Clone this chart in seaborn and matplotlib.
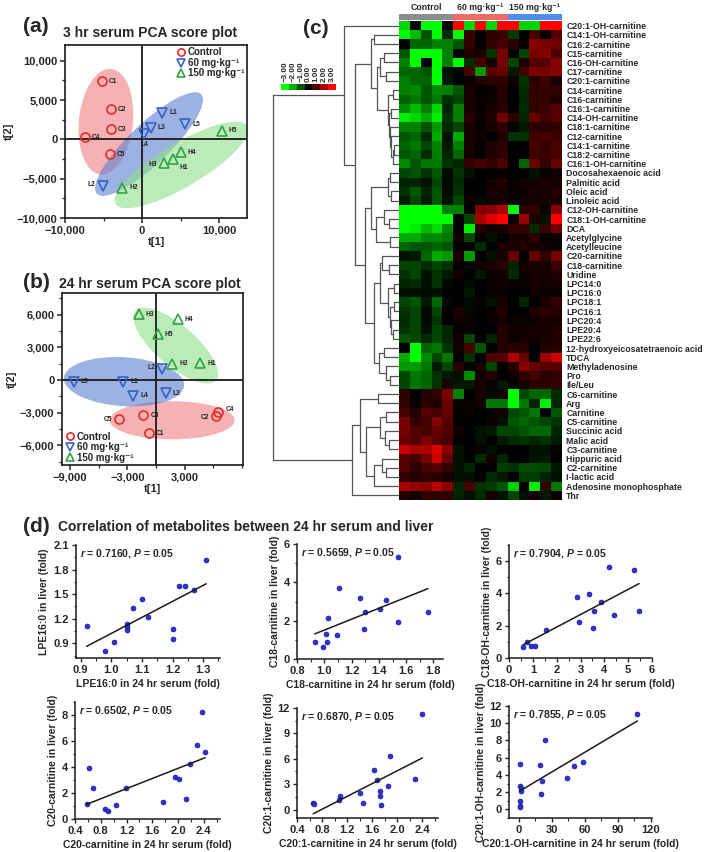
import matplotlib
matplotlib.use("Agg")
import matplotlib.pyplot as plt
from matplotlib.patches import Ellipse
from matplotlib.colors import LinearSegmentedColormap, ListedColormap
from matplotlib.ticker import AutoMinorLocator, FuncFormatter, FormatStrFormatter
import numpy as np
import pandas as pd
import seaborn as sns

# ---------------- (a) 3 hr serum PCA scores
a_ctrl_x = [-5200, -4050, -4050, -7400, -4180]
a_ctrl_y = [7400, 3860, 1270, 300, -1870]
a_low_x = [2600, -5130, 1090, 300, 5600]
a_low_y = [3400, -5900, 1480, 640, 1950]
a_high_x = [4000, -2600, 2830, 5000, 10300]
a_high_y = [-2500, -6150, -2970, -1650, 1100]
# ellipses: centre x, centre y, width, height, angle
a_ellipses = [(-4700, 2250, 7000, 13500, -6), (900, -600, 18500, 5200, 43), (5100, -3250, 19800, 5600, 30)]

# ---------------- (b) 24 hr serum PCA scores
b_ctrl_x = [-730, 6280, -1330, 6530, -3870]
b_ctrl_y = [-4890, -3300, -3230, -2930, -3600]
b_low_x = [-3420, 660, 1010, -2370, -8585]
b_low_y = [-150, 985, -1230, -1450, -150]
b_high_x = [4640, 1710, -1815, 2270, 175]
b_high_y = [1540, 1510, 6070, 5600, 4220]
b_ellipses = [(1680, -3690, 13100, 3500, 0), (-3350, -150, 12600, 4500, -3), (2060, 3170, 10600, 3900, -36)]

ctrl_labels = ["C1", "C2", "C3", "C4", "C5"]
low_labels = ["L1", "L2", "L3", "L4", "L5"]
high_labels = ["H1", "H2", "H3", "H4", "H5"]
group_names = ["Control", "60 mg\u00b7kg\u207b\u00b9", "150 mg\u00b7kg\u207b\u00b9"]

# ---------------- (c) heatmap
hm_rows = ["C20:1-OH-carnitine", "C14:1-OH-carnitine", "C16:2-carnitine", "C15-carnitine",
           "C16-OH-carnitine", "C17-carnitine", "C20:1-carnitine", "C14-carnitine",
           "C16-carnitine", "C16:1-carnitine", "C14-OH-carnitine", "C18:1-carnitine",
           "C12-carnitine", "C14:1-carnitine", "C18:2-carnitine", "C16:1-OH-carnitine",
           "Docosahexaenoic acid", "Palmitic acid", "Oleic acid", "Linoleic acid",
           "C12-OH-carnitine", "C18:1-OH-carnitine", "DCA", "Acetylglycine", "Acetylleucine",
           "C20-carnitine", "C18-carnitine", "Uridine", "LPC14:0", "LPC16:0", "LPC18:1",
           "LPC16:1", "LPC20:4", "LPE20:4", "LPE22:6", "12-hydroxyeicosatetraenoic acid",
           "TDCA", "Methyladenosine", "Pro", "Ile/Leu", "C6-carnitine", "Arg", "Carnitine",
           "C5-carnitine", "Succinic acid", "Malic acid", "C3-carnitine", "Hippuric acid",
           "C2-carnitine", "I-lactic acid", "Adenosine monophosphate", "Thr"]
hm_groups = [0] * 5 + [1] * 5 + [2] * 5
hm_values = [
    [-2.5, 0, -3, -3, 0, 3, -2.5, 3, -2.5, 3, 3, -2.5, -2.5, 3, 3],
    [-3, -2.2, -1, -3, -0.5, -3, 0.7, 0, 0.5, 0.7, -0.7, 0, 0.8, 0, 1.0],
    [0, -1.2, -1.2, -1.5, -1.5, -1.0, 0.6, 0, 0.6, 0.8, 0.5, 0.1, 1.6, 1.4, 1.3],
    [-1, -3, -3, -3, -1.5, 0, 0.4, 0.3, -0.6, 1.4, 0, -0.8, 1.4, 1.6, 0.9],
    [-1.5, -3, 0, -3, -1.5, -3, -0.5, 0.8, 0.3, 1.4, -0.8, 0.3, 1.0, 1.0, 1.6],
    [-1.2, -1.2, -1.0, -3, -0.2, 0, 0.8, -1.8, 1.0, 1.2, -0.3, 0.8, 1.4, 1.4, 1.6],
    [-1.5, -1.2, -1.2, -3, -0.3, 0, 0.1, 0.4, 0.5, 0.6, 0.2, -0.6, 0.5, 0.7, 0.3],
    [-1.5, -1.6, -1.0, -1.6, -1.5, -1.0, 0.3, 0, 0.1, 0.4, 0, -0.5, 0.6, 0.6, 0.6],
    [-1.2, -1.4, -1.0, -1.4, -0.6, -0.8, 0.3, 0.1, 0.2, 0.4, 0, -0.4, 0.6, 0.6, 0.4],
    [-1.6, -2.2, -1.5, -2.5, -0.4, -1.5, 0.3, 0.1, 0.3, 0.5, 0, -0.5, 0.6, 0.7, 1.0],
    [-2.8, -2.5, -2, -2.8, -0.6, -1.5, 0.5, 0.1, 0.4, 1.3, 0.5, -0.4, 1.2, 0.8, 1.0],
    [-1.5, -1.5, -1.0, -1.8, -0.5, -0.8, 0.3, 0.1, 0.3, 0.5, 0.1, -0.3, 0.5, 0.5, 0.6],
    [-1.0, -1.2, -0.5, -2.0, -0.2, -2.0, 0.3, 0.2, 0, 0.4, -0.6, -0.6, 0.7, 0.8, 0.7],
    [-1.2, -1.4, -0.8, -1.5, -0.3, -1.5, 0.3, 0.1, 0.4, 0.5, 0, 0, 0.8, 0.6, 0.9],
    [-1.0, -1.2, -0.5, -1.5, -0.4, -1.2, 0.3, 0, 0.4, 0.6, 0, 0, 0.7, 0.7, 0.8],
    [-1.6, -1.0, -1.4, -1.4, -0.6, -0.4, 0.6, 0.8, 0.6, 0.9, 0, -1.2, 1.2, 0.6, 1.2],
    [-0.8, -1.0, -0.6, -1.0, -0.1, -0.6, -0.2, 0, 0, 0.1, 0, 0, -0.2, 0.1, 0.2],
    [-0.4, -0.4, -0.2, -0.8, -0.1, -0.5, 0, 0, 0.2, 0.4, 0.1, 0.3, 0.2, 0.3, 0.3],
    [-0.6, -1.0, -0.4, -1.0, -0.1, -0.6, 0, 0, 0.3, 0.3, 0.1, 0.1, 0.3, 0.2, 0.4],
    [-0.3, -0.8, -0.3, -1.0, -0.2, -0.8, 0.2, -0.1, 0.2, 0.3, 0.1, 0.2, 0.3, 0.3, 0.3],
    [-3, -3, -3, -3, -1.5, -1.5, 0, 1.5, 1.6, 2.0, -3, 0.5, 0.6, 0.1, 1.6],
    [-3, -3, -3, -3, -3, 0, -0.8, 2.0, 2.6, 3.0, 0, 1.8, 0.3, -0.2, 3.0],
    [-3, -2.8, -2.2, -2.6, -1.6, 0, -2.8, 0.4, 0.2, 0.3, 0.6, 0.6, -0.5, 0.7, 1.3],
    [-2.0, -2.0, -1.6, -1.6, -1.4, 0.2, -0.8, 0, -0.2, 0, 0.3, 0.3, 0.5, 0.1, 0.2],
    [-1.2, -1.0, -1.0, -1.2, -1.0, 0, 0, -0.5, 0, 0.3, 0.3, 0.4, 0.3, 0.2, 0.1],
    [-0.2, -0.3, -1.2, -2.0, -1.8, 0.3, -1.8, 0, -0.2, 0.3, 1.2, 0, 1.2, 0.6, 1.4],
    [-0.8, -0.8, -0.5, -0.8, -0.6, 0, -0.1, 0.2, 0.3, 0.5, -0.4, 0.2, 0.3, 0.3, 0.7],
    [-0.6, -0.8, -0.2, -0.6, -0.3, 0.2, 0, -0.3, 0.1, 0.2, -0.5, 0.1, 0.3, 0.3, 0.4],
    [-0.4, -0.5, -0.2, -0.6, -0.1, 0, -0.1, 0, 0.1, 0.2, 0.1, 0.1, 0.3, 0.2, 0.3],
    [-0.2, -0.2, -0.1, -0.2, 0, 0, -0.3, 0, 0.1, 0.1, 0, 0, 0.2, 0.1, 0.1],
    [-0.8, -1.0, -0.3, -1.2, -0.1, 0, -0.1, 0.1, -0.2, 0.3, 0, -0.4, 0, 0.3, 0.6],
    [-0.6, -0.8, -0.1, -0.8, 0, 0.3, -0.1, 0, 0.1, 0.4, 0, 0, 0.4, 0.5, 0.4],
    [-0.5, -0.8, -0.1, -0.6, 0, 0.2, 0.1, 0, 0.1, 0.3, 0.1, 0.1, 0.2, 0.3, 0.3],
    [-0.6, -0.8, -0.2, -0.8, -0.4, 0, 0.1, 0, 0, 0.4, 0.2, 0.2, 0.3, 0.3, 0.4],
    [-1.0, -0.8, -0.5, -0.8, -0.4, 0.2, -0.8, 0, -0.4, 0.4, 0.1, 0.3, 0.2, 0.3, 0.4],
    [0, -3, -1.2, -1.4, -0.6, 0.2, 0.8, -1.0, 0, 0.4, 0.5, 0.5, 0, 0.4, 0.5],
    [-2.0, -3, -1.6, -0.8, -1.4, 0, -0.6, 0, 0.9, 1.0, 2.0, 1.2, 0, 1.8, 2.4],
    [-1.8, -1.8, -1.4, -0.3, -0.8, 0.5, 0, 0.3, -0.8, 0, 0.4, 1.6, 1.2, 1.0, 1.0],
    [-0.8, -1.4, -1.2, -0.6, -0.3, -0.2, -1.6, 0.2, 0.4, 0, 0.2, 0.6, 0.8, 0.5, 0.6],
    [-0.8, -1.4, -1.2, -0.6, 0.3, -0.3, -0.3, 0.3, 0.1, -0.3, 0.1, 0.3, 0.5, 0.5, 0.6],
    [0.5, 0, 0.4, 0.6, 1.4, -1.5, 0, 0.3, -0.1, 0.2, -3, -0.8, -1.2, -1.2, -0.5],
    [0.6, 0.1, 0.5, 0.4, 1.2, 0.1, 0.1, 0.2, -1.4, -1.4, -3, -1.4, -0.4, -2.8, -0.4],
    [0.8, 0.4, 1.0, 0.8, 1.2, 0, 0.1, 0, 0.1, 0.2, -0.8, -1.0, -1.4, 0, -1.0],
    [1.4, 0.6, 0.8, 1.6, 1.0, 0, 0, 0, 0.1, -0.2, -1.0, -1.2, -1.0, -0.8, -0.6],
    [1.4, 1.0, 0.8, 1.2, 1.0, 0.2, 0, -0.2, -0.3, -0.8, -0.8, -1.0, -1.2, -1.2, -0.4],
    [1.2, 1.0, 1.4, 1.0, 0.8, 0, 0, -0.2, 0, -0.3, -0.5, -0.6, -0.4, -0.6, -0.3],
    [2.4, 2.0, 2.0, 2.6, 1.6, -0.2, 0, 0.1, -0.2, 0, 0, 0, -0.2, -0.2, 0.1],
    [1.0, 0.8, 1.4, 2.4, 1.2, -0.2, 0, -0.5, 0.2, -0.4, 0, 0, -0.2, -0.3, 0],
    [1.0, 0.5, 0.8, 1.0, 0.6, -0.2, -0.4, 0, 0, -0.7, -0.6, -0.9, -0.9, -0.8, -0.3],
    [0.6, 0.4, 0.6, 0.5, 0.3, -0.2, -0.2, 0.1, -0.5, -0.3, 0, -0.7, -0.7, -0.4, -0.2],
    [2.0, 1.8, 1.6, 2.2, 1.6, -0.4, 0.8, -0.6, -0.7, -1.0, -2.4, 0, -2.8, 0.6, -1.4],
    [0.4, 0.2, 0.6, 0.5, 0.6, -0.4, -0.2, -0.5, 0.3, -0.2, -0.8, -0.2, 0.3, -0.3, 0.1],
]
scale_vals = [-3, -2, -1, 0, 1, 2, 3]

# row dendrogram: (left, right, merge height); leaves are row indices
carn = ((1, 2, 0.2),
        (((3, 4, 0.12), (5, 6, 0.10), 0.15),
         ((7, 8, 0.05), ((9, 10, 0.06), (11, (12, ((13, 14, 0.04), 15, 0.05), 0.06), 0.07), 0.08), 0.09),
         0.17), 0.22)
fa = (((16, 17, 0.07), (18, 19, 0.06), 0.09))
oh = ((20, (21, 22, 0.08), 0.12), (23, 24, 0.07), 0.18)
lp = ((25, (26, 27, 0.08), 0.13), ((28, 29, 0.04), ((30, 31, 0.04), (32, (33, 34, 0.05), 0.06), 0.07), 0.09), 0.15)
tg = ((35, 36, 0.12), (37, (38, 39, 0.07), 0.10), 0.16)
upper = (0, (carn, ((fa, oh, 0.22), (lp, tg, 0.20), 0.27), 0.35), 0.43)
lower = (((40, 41, 0.165), (((42, 43, 0.10), (44, (45, 46, 0.08), 0.11), 0.15),
                            ((47, (48, 49, 0.10), 0.13), 50, 0.20), 0.26), 0.31), 51, 0.37)
dendro = (upper, lower, 0.99)

# ---------------- (d) correlations
d1_x = [1.31, 1.22, 1.24, 1.27, 1.10, 1.07, 1.12, 0.92, 1.05, 1.05, 1.05, 1.01, 0.98, 1.20, 1.20]
d1_y = [1.92, 1.60, 1.60, 1.55, 1.44, 1.33, 1.22, 1.11, 1.13, 1.10, 1.06, 0.91, 0.81, 1.07, 0.95]
d2_x = [1.54, 1.11, 1.26, 1.45, 1.30, 1.41, 1.76, 1.03, 0.93, 0.99, 1.01, 1.02, 1.09, 1.29, 1.54]
d2_y = [5.30, 3.69, 3.17, 3.06, 2.44, 2.60, 2.44, 2.13, 0.88, 0.62, 1.30, 0.88, 1.25, 1.56, 1.92]
d3_x = [4.20, 5.25, 2.86, 3.36, 3.87, 3.57, 4.41, 5.46, 2.94, 3.53, 1.55, 0.76, 0.92, 1.09, 0.59]
d3_y = [5.63, 5.44, 3.75, 3.94, 3.50, 2.94, 2.69, 2.94, 2.25, 1.88, 1.75, 1.00, 0.75, 0.75, 0.69]
d4_x = [2.37, 2.30, 2.42, 2.19, 0.62, 1.95, 2.02, 0.68, 1.19, 0.58, 1.76, 2.12, 0.86, 0.91, 1.04]
d4_y = [8.23, 5.73, 5.16, 4.26, 3.92, 3.23, 3.05, 2.40, 2.35, 1.19, 1.32, 1.52, 0.80, 0.62, 1.06]
d5_x = [2.40, 1.88, 1.63, 1.68, 2.28, 1.85, 1.72, 1.73, 1.41, 1.74, 1.46, 1.08, 1.07, 0.66, 0.67]
d5_y = [11.26, 6.29, 4.69, 3.44, 3.56, 2.78, 2.19, 1.56, 1.92, 0.59, 0.74, 1.60, 1.09, 0.78, 0.70]
d6_x = [107.7, 23.3, 58.2, 50.5, 19.6, 1.2, 43.5, 21.4, 19.9, 1.2, 1.5, 1.5, 0.6, 0.6, 1.2]
d6_y = [11.1, 8.05, 5.52, 5.06, 5.17, 5.29, 3.60, 3.33, 1.80, 2.68, 2.45, 2.18, 0.92, 0.38, 0.27]
d_r = ["0.7160", "0.5659", "0.7904", "0.6502", "0.6870", "0.7855"]
d_names = ["LPE16:0", "C18-carnitine", "C18-OH-carnitine", "C20-carnitine",
           "C20:1-carnitine", "C20:1-OH-carnitine"]

sns.set_theme(style="ticks")
plt.rcParams["font.family"] = ["Liberation Sans", "DejaVu Sans"]
plt.rcParams["font.weight"] = "bold"
plt.rcParams["axes.labelweight"] = "bold"
plt.rcParams["mathtext.fontset"] = "custom"
plt.rcParams["mathtext.rm"] = "Liberation Sans:bold"
plt.rcParams["mathtext.it"] = "Liberation Sans:italic:bold"
plt.rcParams["mathtext.bf"] = "Liberation Sans:bold"

W, H = 709, 852
fig = plt.figure(figsize=(W / 100, H / 100), dpi=100)


def add_ax(l, t, r, b):
    return fig.add_axes([l / W, 1 - b / H, (r - l) / W, (b - t) / H])


comma = FuncFormatter(lambda v, p: f"{v:,.0f}".replace("-", "\u2212"))
grp_colors = ["#e52a2a", "#3560c8", "#2ea44a"]
ell_colors = ["#f08080", "#5b7fd0", "#8fe08a"]
markers = ["o", "v", "^"]


def pca_panel(ax, groups, ellipses, xlim, ylim, xticks, yticks, offsets, legend_loc, anchor):
    for (cx, cy, w, h, ang), col in zip(ellipses, ell_colors):
        ax.add_patch(Ellipse((cx, cy), w, h, angle=ang, fc=col, ec="none", alpha=0.6, zorder=1))
    ax.axhline(0, color="k", lw=1.3, zorder=2)
    ax.axvline(0, color="k", lw=1.3, zorder=2)
    for (xs, ys, labs), name, col, mk in zip(groups, group_names, grp_colors, markers):
        ax.plot(xs, ys, ls="none", marker=mk, ms=6.5, mfc="none", mec=col, mew=1.2,
                label=name, zorder=3)
        for x, y, t in zip(xs, ys, labs):
            dx, dy = offsets.get(t, (5, 0))
            ax.annotate(t, (x, y), xytext=(dx, dy), textcoords="offset points", fontsize=4.8,
                        va="center", ha="left" if dx > 0 else ("right" if dx < 0 else "center"),
                        color="#222222")
    ax.set_xlim(xlim)
    ax.set_ylim(ylim)
    ax.set_xticks(xticks)
    ax.set_yticks(yticks)
    ax.xaxis.set_major_formatter(comma)
    ax.yaxis.set_major_formatter(comma)
    ax.yaxis.set_minor_locator(AutoMinorLocator(2))
    ax.xaxis.set_minor_locator(AutoMinorLocator(2))
    ax.tick_params(which="major", length=3.5, width=1.1, labelsize=8, pad=2)
    ax.tick_params(which="minor", length=2, width=0.9)
    for s in ax.spines.values():
        s.set_linewidth(1.2)
        s.set_color("k")
    ax.set_xlabel("t[1]", fontsize=8, labelpad=1)
    ax.set_ylabel("t[2]", fontsize=8, labelpad=2)
    ax.legend(loc=legend_loc, bbox_to_anchor=anchor, frameon=False, fontsize=7,
              handletextpad=0.1, borderpad=0.1, labelspacing=0.05, handlelength=1.2,
              borderaxespad=0.15, markerscale=0.8)


# (a)
ax_a = add_ax(65, 45, 247, 218)
pca_panel(ax_a,
          [(a_ctrl_x, a_ctrl_y, ctrl_labels), (a_low_x, a_low_y, low_labels), (a_high_x, a_high_y, high_labels)],
          a_ellipses, (-10000, 13600), (-10000, 12000), [-10000, 0, 10000], [-10000, -5000, 0, 5000, 10000],
          {"L2": (-5, 1), "L4": (0, -7), "H3": (-5, -1), "H1": (5, -6)}, "upper right", (1.0, 1.0))
fig.text(23 / W, 1 - 27 / H, "(a)", fontsize=15, va="center")
fig.text(150 / W, 1 - 33 / H, "3 hr serum PCA score plot", fontsize=10, va="center", ha="center")

# (b)
ax_b = add_ax(62, 293, 243, 465)
pca_panel(ax_b,
          [(b_ctrl_x, b_ctrl_y, ctrl_labels), (b_low_x, b_low_y, low_labels), (b_high_x, b_high_y, high_labels)],
          b_ellipses, (-9840, 9100), (-7800, 8000), [-9000, -3000, 3000], [-6000, -3000, 0, 3000, 6000],
          {"L2": (-5, 1), "C5": (-5, 0), "C2": (-5, -1), "C4": (5, 2)}, "lower left", (0.0, 0.0))
fig.text(23 / W, 1 - 283 / H, "(b)", fontsize=15, va="center")
fig.text(150 / W, 1 - 284 / H, "24 hr serum PCA score plot", fontsize=10, va="center", ha="center")

# (c) heatmap
cmap = LinearSegmentedColormap.from_list("gkr", ["#00ff00", "#000000", "#ff0000"])
df_hm = pd.DataFrame(hm_values, index=hm_rows)
ax_h = add_ax(399, 21, 562, 500)
sns.heatmap(df_hm, ax=ax_h, cmap=cmap, vmin=-3, vmax=3, cbar=False,
            xticklabels=False, yticklabels=hm_rows)
ax_h.yaxis.tick_right()
ax_h.tick_params(axis="y", length=0, pad=3, labelsize=6.3)
plt.setp(ax_h.get_yticklabels(), rotation=0)

ax_g = add_ax(399, 14, 562, 20)
sns.heatmap([hm_groups], ax=ax_g, cmap=ListedColormap(["#8c8c8c", "#f06a6a", "#4d8ee8"]),
            cbar=False, xticklabels=False, yticklabels=False)
for g, name in enumerate(group_names):
    cols = [i for i, v in enumerate(hm_groups) if v == g]
    ax_g.text(np.mean(cols) + 0.5, -1.15, name, ha="center", va="center", fontsize=6.3)

ax_s = add_ax(281, 84, 336, 90)
sns.heatmap([scale_vals], ax=ax_s, cmap=cmap, vmin=-3, vmax=3, cbar=False,
            xticklabels=False, yticklabels=False)
for i, v in enumerate(scale_vals):
    ax_s.text(i + 0.5, -0.4, f"{v:.2f}".replace("-", "\u2212"), rotation=90, ha="center",
              va="bottom", fontsize=5.8)

ax_d = add_ax(272, 21, 399, 500)


def draw_tree(node):
    if isinstance(node, int):
        return node + 0.5, 0.0
    left, right, h = node
    yl, hl = draw_tree(left)
    yr, hr = draw_tree(right)
    kw = dict(color="#555555", lw=0.9)
    ax_d.plot([hl, h], [yl, yl], **kw)
    ax_d.plot([hr, h], [yr, yr], **kw)
    ax_d.plot([h, h], [yl, yr], **kw)
    return (yl + yr) / 2, h


draw_tree(dendro)
ax_d.set_xlim(1.0, 0)
ax_d.set_ylim(len(hm_rows), 0)
ax_d.axis("off")
fig.text(303 / W, 1 - 28 / H, "(c)", fontsize=15, va="center")

# (d) correlations
fig.text(23 / W, 1 - 527 / H, "(d)", fontsize=15, va="center")
fig.text(58 / W, 1 - 527 / H, "Correlation of metabolites between 24 hr serum and liver",
         fontsize=10, va="center")

d_boxes = [(76, 545, 220, 658), (297, 544, 443, 659), (509, 545, 652, 658),
           (75, 702, 220, 819), (297, 708, 438, 818), (509, 706, 652, 818)]
d_data = [(d1_x, d1_y), (d2_x, d2_y), (d3_x, d3_y), (d4_x, d4_y), (d5_x, d5_y), (d6_x, d6_y)]
d_xlims = [(0.885, 1.355), (0.8, 1.87), (0, 6), (0.4, 2.65), (0.4, 2.65), (-9, 121)]
d_ylims = [(0.72, 2.1), (0, 6), (0, 7), (0, 9), (-1, 12), (-1, 12)]
d_xticks = [[0.9, 1.0, 1.1, 1.2, 1.3], [0.8, 1.0, 1.2, 1.4, 1.6, 1.8], [0, 1, 2, 3, 4, 5, 6],
            [0.4, 0.8, 1.2, 1.6, 2.0, 2.4], [0.4, 0.8, 1.2, 1.6, 2.0, 2.4], [0, 30, 60, 90, 120]]
d_yticks = [[0.9, 1.2, 1.5, 1.8, 2.1], [0, 2, 4, 6], [0, 2, 4, 6], [0, 2, 4, 6, 8],
            [0, 3, 6, 9, 12], [0, 2, 4, 6, 8, 10, 12]]
d_xfmt = ["%.1f", "%.1f", "%d", "%.1f", "%.1f", "%d"]
d_yfmt = ["%.1f", "%d", "%d", "%d", "%d", "%d"]

for k in range(6):
    ax = add_ax(*d_boxes[k])
    xs, ys = d_data[k]
    sns.regplot(x=np.array(xs), y=np.array(ys), ax=ax, ci=None,
                scatter_kws=dict(s=13, color="#2b34d9", edgecolor="#10107a", linewidths=0.4, alpha=1),
                line_kws=dict(color="k", lw=1.1))
    ax.set_xlim(d_xlims[k])
    ax.set_ylim(d_ylims[k])
    ax.set_xticks(d_xticks[k])
    ax.set_yticks(d_yticks[k])
    ax.xaxis.set_major_formatter(FormatStrFormatter(d_xfmt[k]))
    ax.yaxis.set_major_formatter(FormatStrFormatter(d_yfmt[k]))
    ax.xaxis.set_minor_locator(AutoMinorLocator(2))
    ax.yaxis.set_minor_locator(AutoMinorLocator(2))
    sns.despine(ax=ax)
    for s in ["left", "bottom"]:
        ax.spines[s].set_linewidth(1.1)
        ax.spines[s].set_color("k")
    ax.tick_params(which="major", length=3, width=1, labelsize=8, pad=2)
    ax.tick_params(which="minor", length=1.8, width=0.8)
    ax.text(0.03, 0.98, f"$\\it{{r}}$ = {d_r[k]}, $\\it{{P}}$ = 0.05", transform=ax.transAxes,
            fontsize=7.5, va="top", ha="left")
    ax.set_xlabel(f"{d_names[k]} in 24 hr serum (fold)", fontsize=7.5, labelpad=3)
    ax.set_ylabel(f"{d_names[k]} in liver (fold)", fontsize=7.5, labelpad=3)

fig.savefig("out.png", dpi=100)
